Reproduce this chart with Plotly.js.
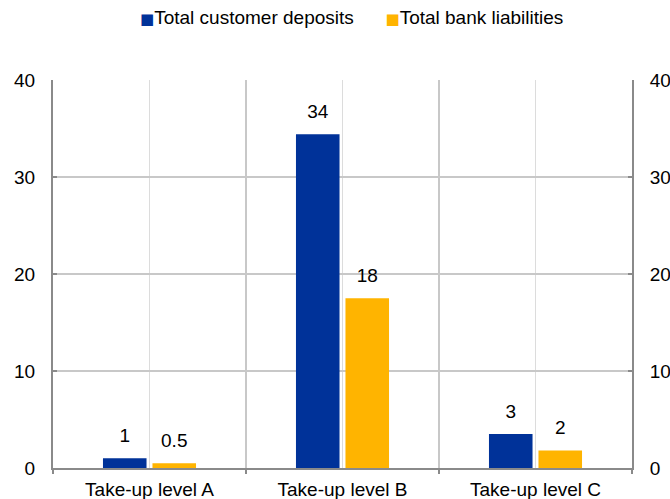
<!DOCTYPE html>
<html><head><meta charset="utf-8">
<script src="https://cdn.plot.ly/plotly-3.0.1.min.js"></script>
<style>html,body{margin:0;padding:0;background:#fff}#chart{width:670px;height:499px}</style>
</head><body><div id="chart"></div>
<script>
const categories = ["Take-up level A", "Take-up level B", "Take-up level C"];
const seriesNames = ["Total customer deposits", "Total bank liabilities"];
const seriesColors = ["#003299", "#FFB400"];
const deposits = [1.0, 34.4, 3.5];
const liabilities = [0.5, 17.5, 1.8];
const depositLabels = ["1", "34", "3"];
const liabilityLabels = ["0.5", "18", "2"];
const yTicks = [0, 10, 20, 30, 40];

const idx = categories.map((c, i) => i);
const font = {family: "Liberation Sans, Arial, sans-serif", size: 19, color: "#000"};

function barTrace(name, values, color, grp) {
  return {type: "bar", name: name, x: idx, y: values, offsetgroup: grp, alignmentgroup: "g",
          marker: {color: color}, hoverinfo: "skip", showlegend: false};
}
function labelTrace(values, labels, grp) {
  return {type: "scatter", mode: "markers+text", x: idx, y: values, text: labels,
          textposition: "top center", textfont: font, offsetgroup: grp, alignmentgroup: "g",
          marker: {size: 17, opacity: 0}, cliponaxis: false, showlegend: false, hoverinfo: "skip"};
}

const traces = [
  barTrace(seriesNames[0], deposits, seriesColors[0], "a"),
  barTrace(seriesNames[1], liabilities, seriesColors[1], "b"),
  labelTrace(deposits, depositLabels, "a"),
  labelTrace(liabilities, liabilityLabels, "b"),
  {type: "scatter", mode: "none", x: [-0.5, categories.length - 0.5], y: [0, 0],
   xaxis: "x2", yaxis: "y2", showlegend: false, hoverinfo: "skip"}
];

const legendText = seriesNames.map((n, i) =>
  '<span style="color:' + seriesColors[i] + ';font-size:15px;font-family:DejaVu Sans">■</span>' + n).join('      ');

const layout = {
  width: 670, height: 499,
  margin: {l: 53, r: 38, t: 80, b: 31},
  paper_bgcolor: "#fff", plot_bgcolor: "#fff",
  font: font,
  barmode: "group", bargap: 0.487, bargroupgap: 0.12,
  scattermode: "group", scattergap: 0.487,
  showlegend: false,
  annotations: [{text: legendText, xref: "paper", yref: "paper", x: 0.515, y: 1.16,
                 xanchor: "center", yanchor: "middle", showarrow: false, font: font}],
  xaxis: {range: [-0.5, categories.length - 0.5], tickvals: idx, ticktext: categories,
          ticks: "", showgrid: true, gridcolor: "#dcdcdc", gridwidth: 1,
          zeroline: false, showline: true, linecolor: "#8a8a8a", linewidth: 2,
          tickfont: font, ticklabelstandoff: 3, fixedrange: true},
  xaxis2: {overlaying: "x", anchor: "y", side: "bottom",
           range: [-0.5, categories.length - 0.5],
           tickvals: idx.map(i => i - 0.5).concat([categories.length - 0.5]),
           ticks: "outside", ticklen: 5, tickwidth: 2, tickcolor: "#8a8a8a",
           showticklabels: false, showgrid: true, gridcolor: "#c8c8c8", gridwidth: 2,
           zeroline: false, showline: false, fixedrange: true},
  yaxis: {range: [0, 40], tickvals: yTicks, ticks: "inside", ticklen: 4, tickwidth: 2,
          tickcolor: "#8a8a8a", showgrid: true, gridcolor: "#c8c8c8", gridwidth: 1.5,
          zeroline: false, showline: true, linecolor: "#8a8a8a", linewidth: 2,
          tickfont: font, ticklabelstandoff: 12, fixedrange: true},
  yaxis2: {overlaying: "y", side: "right", anchor: "x", range: [0, 40], tickvals: yTicks,
           ticks: "inside", ticklen: 4, tickwidth: 2, tickcolor: "#8a8a8a",
           showgrid: false, zeroline: false, showline: true, linecolor: "#8a8a8a",
           linewidth: 2, tickfont: font, ticklabelstandoff: 12, fixedrange: true}
};

Plotly.newPlot("chart", traces, layout, {displayModeBar: false, staticPlot: true});
</script></body></html>
